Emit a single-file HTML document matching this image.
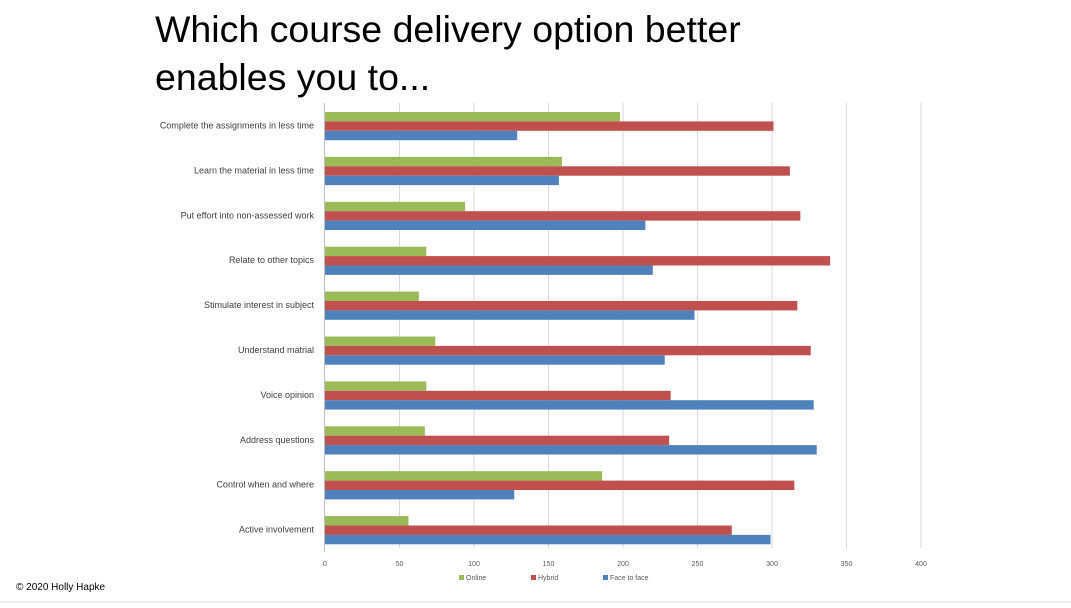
<!DOCTYPE html>
<html><head><meta charset="utf-8"><style>
body{margin:0;background:#fff;width:1071px;height:603px;overflow:hidden;font-family:"Liberation Sans",sans-serif}
</style></head><body>
<svg width="1071" height="603" xmlns="http://www.w3.org/2000/svg" font-family="Liberation Sans, sans-serif">
<text x="155" y="42" font-size="37.5" fill="#000">Which course delivery option better</text>
<text x="155" y="90" font-size="37.5" fill="#000">enables you to...</text>
<g stroke="#d9d9d9" stroke-width="1">
<line x1="399.5" y1="103" x2="399.5" y2="548"/><line x1="474" y1="103" x2="474" y2="548"/>
<line x1="548.5" y1="103" x2="548.5" y2="548"/><line x1="623" y1="103" x2="623" y2="548"/>
<line x1="697.5" y1="103" x2="697.5" y2="548"/><line x1="772" y1="103" x2="772" y2="548"/>
<line x1="846.5" y1="103" x2="846.5" y2="548"/><line x1="921" y1="103" x2="921" y2="548"/>
</g>
<g id="bars"></g>
<line x1="324.5" y1="103" x2="324.5" y2="552" stroke="#bfbfbf"/>
<g font-size="7" fill="#595959" text-anchor="middle">
<text x="325" y="566">0</text><text x="399.5" y="566">50</text><text x="474" y="566">100</text><text x="548.5" y="566">150</text><text x="623" y="566">200</text><text x="697.5" y="566">250</text><text x="772" y="566">300</text><text x="846.5" y="566">350</text><text x="921" y="566">400</text>
</g>
<g font-size="7" fill="#595959">
<rect x="459" y="575" width="5" height="5" fill="#9bbb59"/><text x="466" y="580">Online</text>
<rect x="531" y="575" width="5" height="5" fill="#c0504d"/><text x="538" y="580">Hybrid</text>
<rect x="603" y="575" width="5" height="5" fill="#4f81bd"/><text x="610" y="580">Face to face</text>
</g>
<text x="16" y="590" font-size="10" fill="#000">© 2020 Holly Hapke</text>
<line x1="0" y1="602" x2="1071" y2="602" stroke="#d9d9d9"/>
</svg>
<script>
var d=[["Complete the assignments in less time",198,301,129],["Learn the material in less time",159,312,157],["Put effort into non-assessed work",94,319,215],["Relate to other topics",68,339,220],["Stimulate interest in subject",63,317,248],["Understand matrial",74,326,228],["Voice opinion",68,232,328],["Address questions",67,231,330],["Control when and where",186,315,127],["Active involvement",56,273,299]];
var c=["#9bbb59","#c0504d","#4f81bd"],s="";
d.forEach(function(r,i){var y=112+44.9*i;
for(var k=0;k<3;k++){s+='<rect x="325" y="'+(y+k*9.4)+'" width="'+(r[k+1]*1.49)+'" height="9.4" fill="'+c[k]+'"/>';}
s+='<text x="314" y="'+(y+16.5)+'" font-size="9" fill="#404040" text-anchor="end">'+r[0]+'</text>';});
document.getElementById("bars").innerHTML=s;
</script>
</body></html>
